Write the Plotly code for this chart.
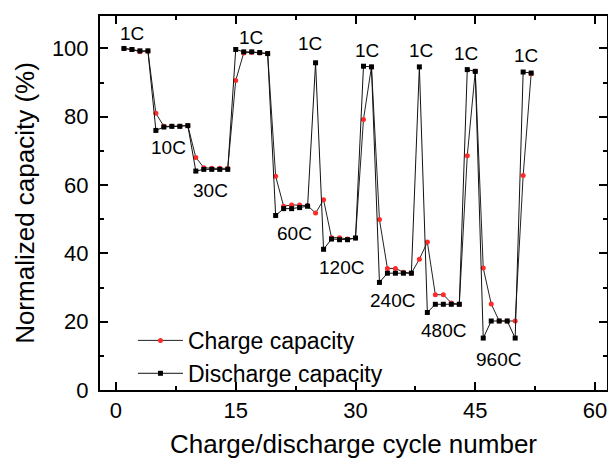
import plotly.graph_objects as go

cycles = list(range(1, 53))

charge_capacity = [
    100.0, 99.7, 99.0, 99.2, 81.0, 77.2, 77.2, 77.2, 77.4, 68.1,
    65.1, 64.9, 64.9, 64.9, 90.6, 98.7, 98.9, 98.7, 98.5, 62.6,
    53.8, 54.2, 54.2, 54.0, 51.8, 55.7, 44.6, 44.6, 44.2, 44.5,
    79.2, 94.6, 49.9, 35.6, 35.6, 34.5, 34.2, 38.3, 43.3, 27.9,
    27.9, 25.5, 25.1, 68.6, 93.3, 35.7, 25.2, 20.2, 20.2, 20.2,
    62.8, 92.6,
]

discharge_capacity = [
    100.0, 99.7, 99.3, 99.3, 76.0, 77.0, 77.2, 77.2, 77.4, 64.1,
    64.6, 64.6, 64.6, 64.6, 99.7, 99.0, 99.0, 98.8, 98.5, 51.1,
    53.1, 53.1, 53.4, 53.8, 95.8, 41.2, 44.2, 44.0, 44.0, 44.5,
    94.8, 94.6, 31.5, 34.2, 34.2, 34.2, 34.2, 94.6, 22.7, 25.1,
    25.1, 25.1, 25.1, 93.8, 93.3, 15.2, 20.2, 20.2, 20.2, 15.2,
    93.1, 92.8,
]

rate_labels = ["1C", "10C", "30C", "1C", "60C", "1C", "120C", "1C",
               "240C", "1C", "480C", "1C", "960C", "1C"]
label_x = [2.0, 6.6, 11.9, 16.9, 22.3, 24.3, 28.2, 31.5,
           34.6, 38.2, 41.0, 43.9, 47.9, 51.3]
label_y = [104.4, 71.1, 58.5, 103.2, 45.9, 101.5, 36.0, 99.4,
           26.3, 99.4, 17.5, 98.5, 8.8, 98.0]

x_ticks = [0, 15, 30, 45, 60]
y_ticks = [0, 20, 40, 60, 80, 100]

FONT = "Arial, Liberation Sans, sans-serif"

fig = go.Figure()
fig.add_trace(go.Scatter(
    x=cycles, y=charge_capacity, mode="lines+markers",
    name="Charge capacity",
    line=dict(color="#222222", width=1),
    marker=dict(symbol="circle", size=5, color="#ff2a2a", line=dict(width=0)),
))
fig.add_trace(go.Scatter(
    x=cycles, y=discharge_capacity, mode="lines+markers",
    name="Discharge capacity",
    line=dict(color="#111111", width=1),
    marker=dict(symbol="square", size=5, color="#000000", line=dict(width=0)),
))

for t, lx, ly in zip(rate_labels, label_x, label_y):
    fig.add_annotation(x=lx, y=ly, text=t, showarrow=False,
                       font=dict(family=FONT, size=19, color="black"))

axis_common = dict(
    showgrid=False, zeroline=False, showline=True, linecolor="black",
    linewidth=2, mirror="allticks", ticks="inside", ticklen=8, tickwidth=2,
    tickcolor="black", tickfont=dict(family=FONT, size=22, color="black"),
    automargin=False, ticklabeloverflow="allow",
)

fig.update_xaxes(
    range=[-2, 61.5], tickvals=x_ticks,
    ticktext=[str(v) for v in x_ticks],
    minor=dict(ticks="inside", ticklen=4, tickwidth=2, tickcolor="black", dtick=7.5, tick0=0),
    title=dict(text="Charge/discharge cycle number",
               font=dict(family=FONT, size=26, color="black"), standoff=12),
    **axis_common,
)
fig.update_yaxes(
    range=[0, 109.5], tickvals=y_ticks,
    ticktext=[str(v) for v in y_ticks],
    minor=dict(ticks="inside", ticklen=4, tickwidth=2, tickcolor="black", dtick=10, tick0=0),
    title=dict(text="Normalized capacity (%)",
               font=dict(family=FONT, size=26, color="black"), standoff=10),
    ticklabelstandoff=5,
    **axis_common,
)

fig.update_layout(
    width=608, height=465,
    margin=dict(l=100, r=1, t=16, b=75),
    paper_bgcolor="white", plot_bgcolor="white",
    font=dict(family=FONT, color="black"),
    legend=dict(x=0.065, y=0.19, xanchor="left", yanchor="top",
                bgcolor="rgba(0,0,0,0)", borderwidth=0,
                font=dict(family=FONT, size=23, color="black"),
                itemwidth=45, tracegroupgap=0),
    showlegend=True,
)

# remove the default page margin so the figure fills the window exactly
fig.write_html(
    "out.html",
    config={"displayModeBar": False},
    post_script="document.body.style.margin='0';document.body.style.overflow='hidden';",
)
